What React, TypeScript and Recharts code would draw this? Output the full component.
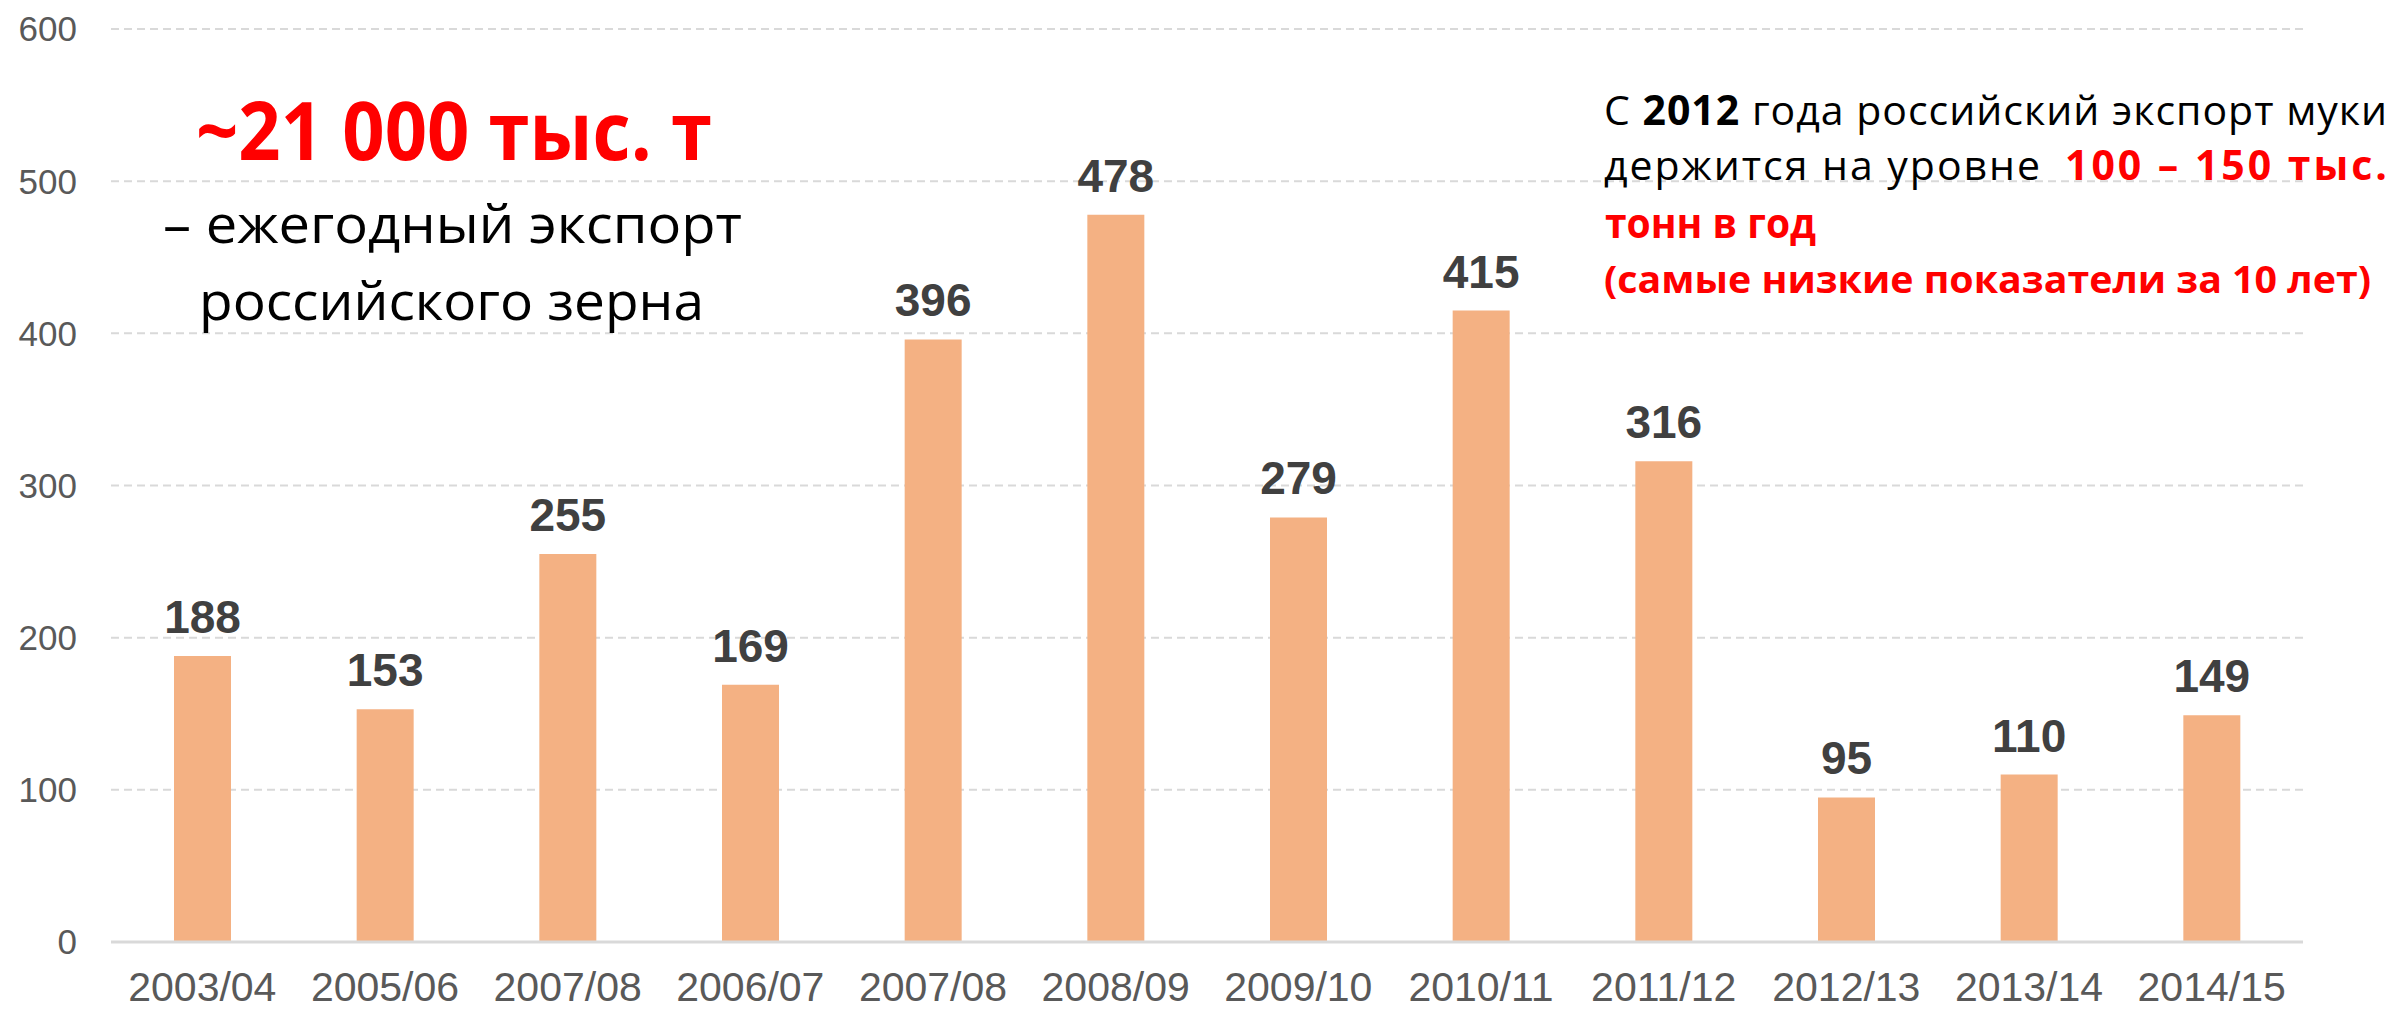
import { BarChart, Bar, XAxis, YAxis, CartesianGrid, LabelList } from 'recharts';

const seasons = [
	'2003/04',
	'2005/06',
	'2007/08',
	'2006/07',
	'2007/08',
	'2008/09',
	'2009/10',
	'2010/11',
	'2011/12',
	'2012/13',
	'2013/14',
	'2014/15',
];

const flourExport = [188, 153, 255, 169, 396, 478, 279, 415, 316, 95, 110, 149];

const yTicks = [0, 100, 200, 300, 400, 500, 600];

const data = seasons.map((season, i) => ({ season, value: flourExport[i] }));

const W = 2400;
const H = 1010;
const TEXT_FONT = "'Open Sans', 'Noto Sans', sans-serif";
const AXIS_FONT = "'Liberation Sans', Arial, sans-serif";

const App = () => {
	return (
		<div style={{ position: 'absolute', left: 0, top: 0, width: W, height: H, background: '#fff' }}>
			<BarChart
				width={W}
				height={H}
				data={data}
				margin={{ top: 29, right: 97, bottom: 0, left: 0 }}>
				<CartesianGrid
					vertical={false}
					stroke='#D9D9D9'
					strokeWidth={2}
					strokeDasharray='8 5'
				/>
				<XAxis
					dataKey='season'
					height={68}
					interval={0}
					axisLine={{ stroke: '#D9D9D9', strokeWidth: 3 }}
					tickLine={false}
					tickSize={6}
					tickMargin={24}
					tick={{ fill: '#595959', fontSize: 41, fontFamily: AXIS_FONT }}
				/>
				<YAxis
					width={111}
					domain={[0, 600]}
					ticks={yTicks}
					axisLine={false}
					tickLine={false}
					tickSize={6}
					tickMargin={28}
					tick={{ fill: '#595959', fontSize: 35, fontFamily: AXIS_FONT }}
				/>
				<Bar dataKey='value' fill='#F4B183' barSize={57} isAnimationActive={false}>
					<LabelList
						dataKey='value'
						position='top'
						offset={23}
						fill='#404040'
						fontSize={46}
						fontWeight='bold'
						fontFamily={AXIS_FONT}
					/>
				</Bar>
			</BarChart>
			<svg
				width={W}
				height={H}
				style={{ position: 'absolute', left: 0, top: 0, pointerEvents: 'none' }}>
				{/* left note */}
				<text
					x={454}
					y={160}
					textAnchor='middle'
					fontFamily={TEXT_FONT}
					fontWeight='bold'
					fontSize={81}
					fill='#FF0000'
					textLength={516}
					lengthAdjust='spacingAndGlyphs'>
					~21 000 тыс. т
				</text>
				<text
					x={452.5}
					y={243}
					textAnchor='middle'
					fontFamily={TEXT_FONT}
					fontSize={53}
					fill='#000'
					textLength={579}
					lengthAdjust='spacingAndGlyphs'>
					– ежегодный экспорт
				</text>
				<text
					x={451.5}
					y={320}
					textAnchor='middle'
					fontFamily={TEXT_FONT}
					fontSize={53}
					fill='#000'
					textLength={505}
					lengthAdjust='spacingAndGlyphs'>
					российского зерна
				</text>

				{/* right note, justified lines */}
				<text
					x={1604}
					y={125}
					fontFamily={TEXT_FONT}
					fontSize={41}
					fill='#000'
					textLength={783}
					lengthAdjust='spacing'>
					С <tspan fontWeight='bold'>2012</tspan> года российский экспорт муки
				</text>
				<text
					x={1604}
					y={180}
					fontFamily={TEXT_FONT}
					fontSize={41}
					fill='#000'
					textLength={436}
					lengthAdjust='spacing'>
					держится на уровне
				</text>
				<text
					x={2065}
					y={180}
					fontFamily={TEXT_FONT}
					fontSize={41}
					fontWeight='bold'
					fill='#FF0000'
					textLength={322}
					lengthAdjust='spacing'>
					100 – 150 тыс.
				</text>
				<text
					x={1605}
					y={238}
					fontFamily={TEXT_FONT}
					fontSize={41}
					fontWeight='bold'
					fill='#FF0000'
					textLength={211}
					lengthAdjust='spacingAndGlyphs'>
					тонн в год
				</text>
				<text
					x={1604}
					y={293}
					fontFamily={TEXT_FONT}
					fontSize={38}
					fontWeight='bold'
					fill='#FF0000'
					textLength={767}
					lengthAdjust='spacingAndGlyphs'>
					(самые низкие показатели за 10 лет)
				</text>
			</svg>
		</div>
	);
};

export default App;
